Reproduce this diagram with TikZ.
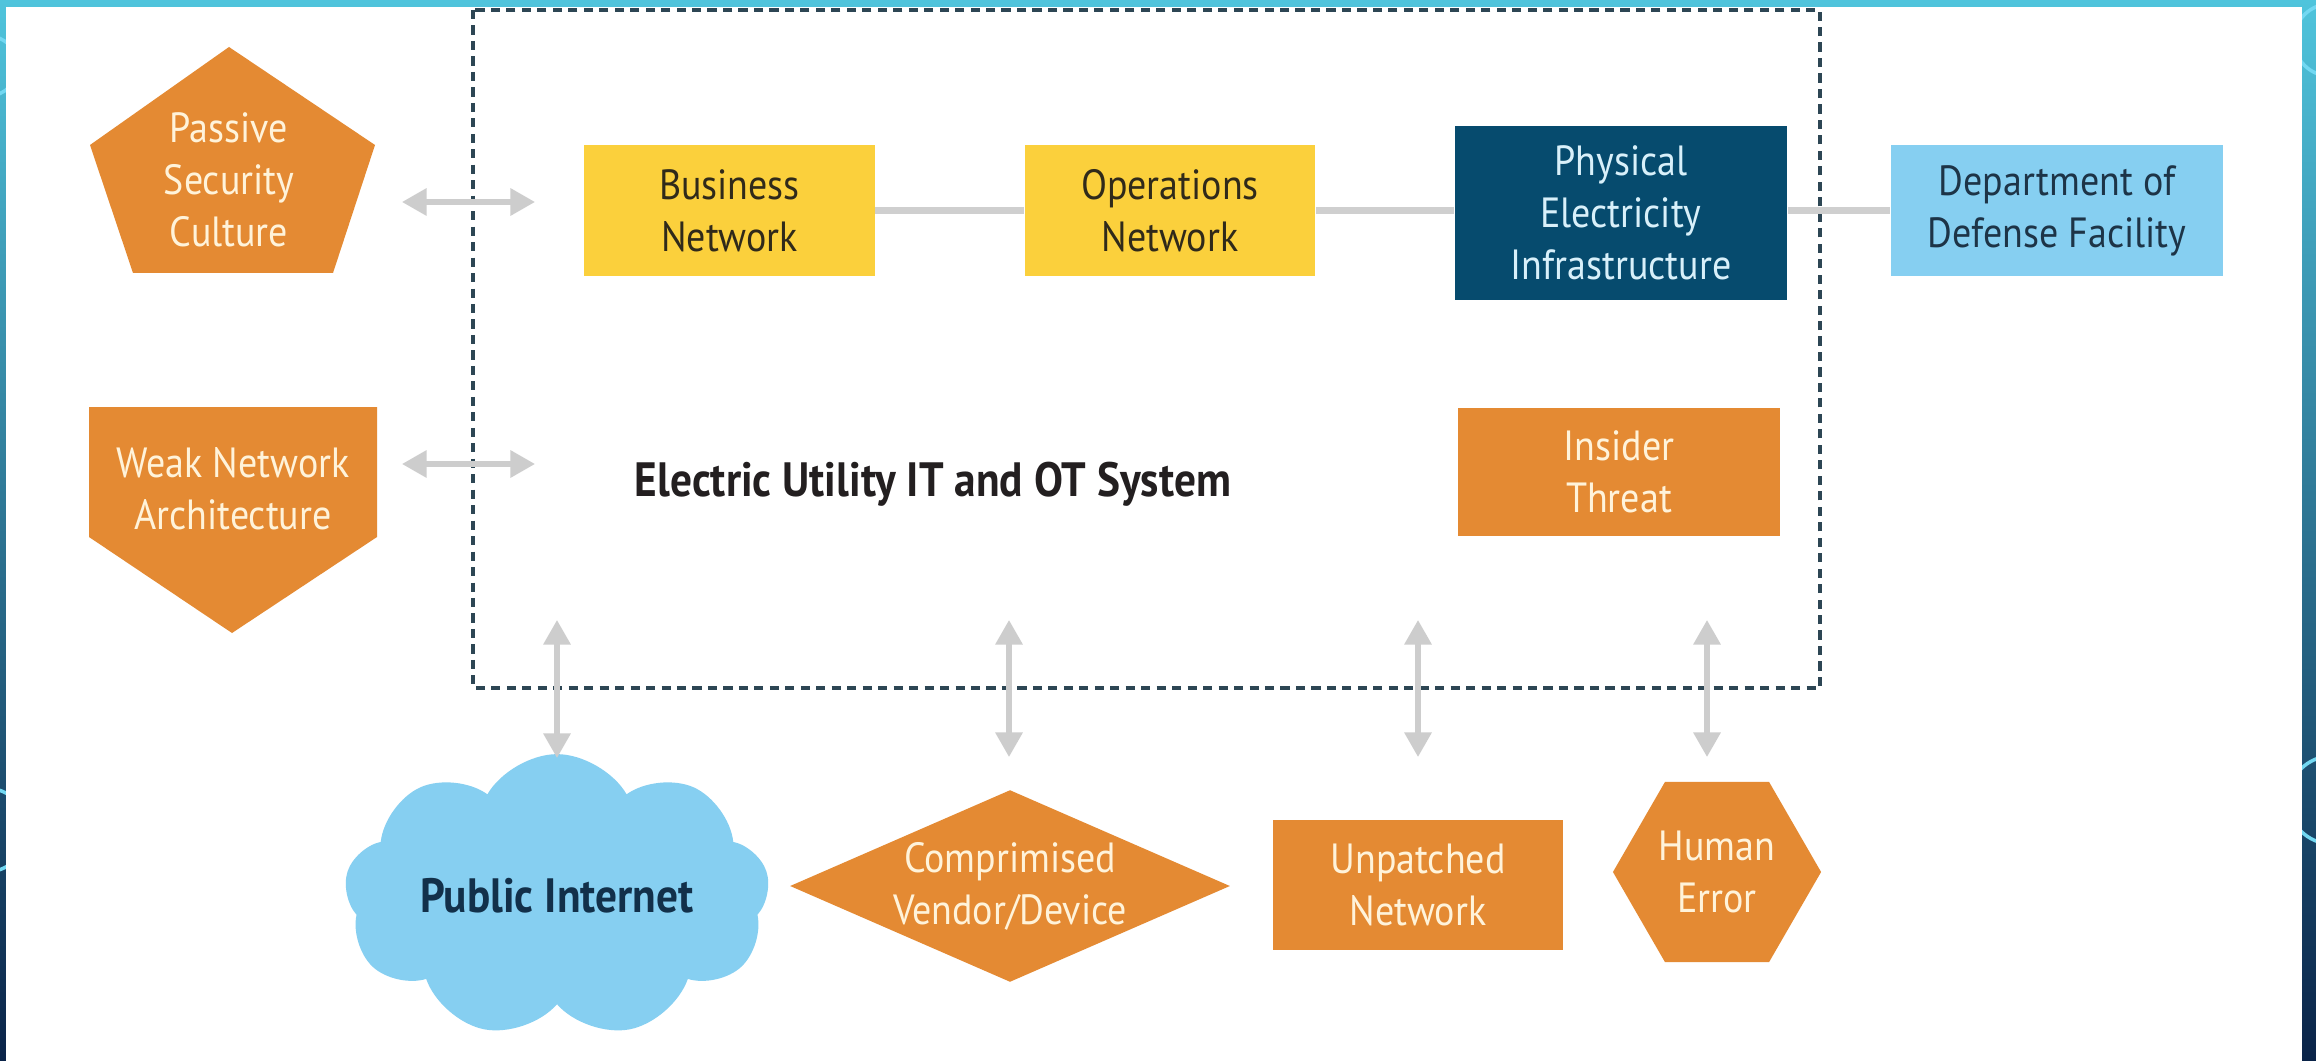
\documentclass[tikz,border=0pt]{standalone}
\usepackage{fontspec}
\setmainfont{PT Sans}[FakeStretch=0.9]
\usetikzlibrary{shapes.geometric,shapes.symbols,arrows.meta}
\definecolor{frameTop}{HTML}{4FC4DC}
\definecolor{frameBot}{HTML}{0A2348}
\definecolor{ring}{HTML}{72D8F2}
\definecolor{orng}{HTML}{E48A33}
\definecolor{ylw}{HTML}{FBD03C}
\definecolor{navy}{HTML}{064B6E}
\definecolor{lblue}{HTML}{86CFF1}
\definecolor{lgray}{HTML}{CFCFCF}
\definecolor{agray}{HTML}{CDCDCD}
\definecolor{dashc}{HTML}{2D4654}
\definecolor{cream}{HTML}{FFF3DA}
\definecolor{ytext}{HTML}{302A1A}
\definecolor{ptext}{HTML}{D8F0FA}
\definecolor{dtext}{HTML}{1D3447}
\definecolor{etextc}{HTML}{231F20}
\definecolor{itext}{HTML}{12304A}
\begin{document}
\begin{tikzpicture}[x=0.01cm,y=-0.01cm,
  lbl/.style={font=\fontsize{12}{14.8}\selectfont, align=center, inner sep=0pt},
  otext/.style={lbl, text=cream},
  ybox/.style={lbl, fill=ylw, text=ytext, minimum width=2.9cm, minimum height=1.31cm},
  obox/.style={lbl, fill=orng, text=cream},
  dbl/.style={draw=agray, line width=1.5pt, {Triangle[width=7.5pt,length=7pt]}-{Triangle[width=7.5pt,length=7pt]}},
  conn/.style={draw=lgray, line width=2pt},
  dashbox/.style={draw=dashc, line width=0.9pt, dash pattern=on 2.6pt off 1.8pt}
]
\useasboundingbox (0,0) rectangle (2316,1061);
% frame background
\shade[top color=frameTop, bottom color=frameBot] (0,0) rectangle (2316,1061);
\draw[ring, line width=1pt] (-12,66) circle (30);
\draw[ring, line width=1pt] (-14,830) circle (42);
\draw[ring, line width=1pt] (2330,40) circle (36);
\draw[ring, line width=1pt] (2332,800) circle (44);
\fill[white] (6,7) rectangle (2302,1061);

% system boundary
\draw[dashbox] (473,10) rectangle (1820,688);

% left threats
\fill[orng] (229,47) -- (375,145) -- (333,273) -- (133,273) -- (90,145) -- cycle;
\node[otext] (psc) at (229,180) {Passive\\Security\\Culture};
\fill[orng] (89,407) -- (377,407) -- (377,537) -- (232,633) -- (89,537) -- cycle;
\node[otext] (wna) at (233,489) {Weak Network\\Architecture};

\coordinate (h1l) at (402,202);
\coordinate (h1r) at (535,202);
\coordinate (h2l) at (402,464);
\coordinate (h2r) at (535,464);
\draw[dbl] (h1l) -- (h1r);
\draw[dbl] (h2l) -- (h2r);

% top row
\node[ybox] (bn) at (729.5,210.5) {Business\\Network};
\node[ybox] (on) at (1170,210.5) {Operations\\Network};
\node[lbl, fill=navy, text=ptext, minimum width=3.32cm, minimum height=1.74cm] (pe) at (1621,213) {Physical\\Electricity\\Infrastructure};
\node[lbl, fill=lblue, text=dtext, minimum width=3.32cm, minimum height=1.31cm] (dod) at (2057,210.5) {Department of\\Defense Facility};
\draw[conn] (bn.east) -- (on.west);
\draw[conn] (on.east) -- (on.east -| pe.west);
\draw[conn] (pe.east |- dod.west) -- (dod.west);

% middle
\node[lbl, font=\fontsize{13.7}{15}\selectfont\bfseries, text=etextc] (eu) at (933,484) {Electric Utility IT and OT System};
\node[obox, minimum width=3.22cm, minimum height=1.28cm] (it) at (1619,472) {Insider\\Threat};

% bottom row
\node[cloud, cloud puffs=9, cloud puff arc=120, aspect=1.75, fill=lblue, inner sep=0pt,
      minimum width=4.25cm, minimum height=2.3cm,
      font=\fontsize{13.7}{15}\selectfont\bfseries, text=itext] (pi) at (557,896) {Public Internet};
\node[diamond, aspect=2.29, fill=orng, text=cream, inner sep=0pt, align=center,
      font=\fontsize{12}{14.8}\selectfont, minimum width=4.4cm, minimum height=1.92cm] (cv) at (1010,886) {Comprimised\\Vendor/Device};
\node[obox, minimum width=2.9cm, minimum height=1.3cm] (un) at (1418,885) {Unpatched\\Network};
\node[regular polygon, regular polygon sides=6, fill=orng, text=cream, inner sep=0pt, align=center,
      font=\fontsize{12}{14.8}\selectfont, minimum size=2.08cm] (he) at (1717,872) {Human\\Error};

% vertical arrows
\coordinate (v1t) at (557,620); \coordinate (v1b) at (557,758);
\coordinate (v2t) at (1009,620); \coordinate (v2b) at (1009,757);
\coordinate (v3t) at (1418,620); \coordinate (v3b) at (1418,757);
\coordinate (v4t) at (1707,620); \coordinate (v4b) at (1707,757);
\draw[dbl] (v1t) -- (v1b);
\draw[dbl] (v2t) -- (v2b);
\draw[dbl] (v3t) -- (v3b);
\draw[dbl] (v4t) -- (v4b);
\end{tikzpicture}
\end{document}
